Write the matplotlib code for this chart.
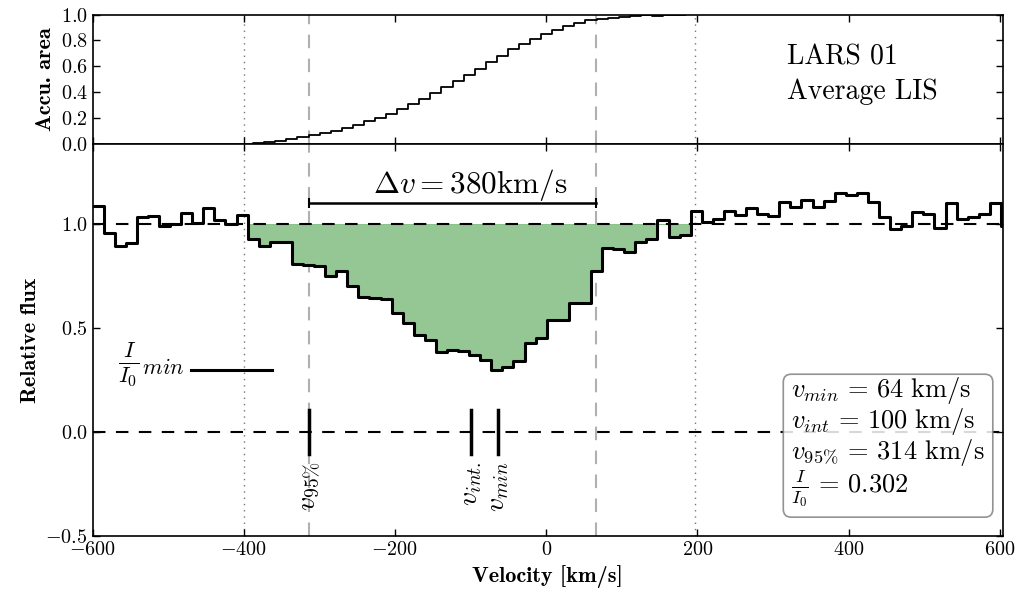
import numpy as np
import matplotlib
matplotlib.use("Agg")
import matplotlib.pyplot as plt
from matplotlib.ticker import FuncFormatter

plt.rcParams['font.family'] = ['cmr10']
plt.rcParams['mathtext.fontset'] = 'cm'
plt.rcParams['axes.formatter.use_mathtext'] = True
plt.rcParams['axes.unicode_minus'] = True

# ---------------- data ----------------
v_start = -600.0      # left edge of first velocity bin (km/s)
bin_width = 14.65     # km/s
flux = [1.087, 0.960, 0.897, 0.911, 1.034, 1.039, 0.992, 1.001, 1.053, 1.005,
        1.079, 1.021, 1.000, 1.047, 0.930, 0.897, 0.914, 0.917, 0.809, 0.804,
        0.800, 0.751, 0.777, 0.703, 0.649, 0.644, 0.640, 0.572, 0.527, 0.468,
        0.444, 0.388, 0.396, 0.392, 0.372, 0.348, 0.302, 0.315, 0.341, 0.431,
        0.452, 0.540, 0.540, 0.620, 0.624, 0.775, 0.885, 0.882, 0.868, 0.917,
        0.931, 1.023, 0.937, 0.949, 1.063, 1.013, 1.025, 1.065, 1.045, 1.077,
        1.049, 1.040, 1.109, 1.082, 1.117, 1.082, 1.114, 1.149, 1.141, 1.149,
        1.109, 1.034, 0.976, 0.992, 1.061, 1.049, 0.981, 1.104, 1.024, 1.037,
        1.049, 1.104, 0.990]
line_first_bin = 14   # first bin of the absorption line window
line_last_bin = 53    # last bin of the absorption line window
v_window = [-400, 197]
v95_left, v95_right = -314, 66
v_int = -100
v_min = -64
I_min = 0.302
delta_v = 380
box_lines = [r'$v_{min}\,=\,64\ \mathrm{km/s}$',
             r'$v_{int}\,=\,100\ \mathrm{km/s}$',
             r'$v_{95\%}\,=\,314\ \mathrm{km/s}$',
             r'$\frac{I}{I_0}\,=\,0.302$']
title_lines = ['LARS 01', 'Average LIS']
x_ticks = [-600, -400, -200, 0, 200, 400, 600]
top_yticks = [0.0, 0.2, 0.4, 0.6, 0.8, 1.0]
bot_yticks = [-0.5, 0.0, 0.5, 1.0]

# ---------------- derived ----------------
flux = np.array(flux)
edges = v_start + bin_width * np.arange(len(flux) + 1)
centers = 0.5 * (edges[:-1] + edges[1:])
sel = slice(line_first_bin, line_last_bin + 1)
deficit = 1.0 - flux[sel]
accu = np.cumsum(deficit) / np.sum(deficit)

fmt1 = FuncFormatter(lambda x, p: r'$%.1f$' % x)
fmt0 = FuncFormatter(lambda x, p: r'$%d$' % round(x))

# ---------------- figure ----------------
fig = plt.figure(figsize=(10.29, 5.97), dpi=100)
L, W = 0.0899, 0.8844
ax1 = fig.add_axes([L, 0.7583, W, 0.2174])
ax2 = fig.add_axes([L, 0.1017, W, 0.6566])

xlim = (-600, 603.5)
dotted_kw = dict(color='#777777', lw=1.0, dashes=(1.0, 3.5))
gdash_kw = dict(color='#b0b0b0', lw=1.5, dashes=(6.5, 5))
label_kw = dict(fontfamily='cmb10', fontsize=16)

for ax in (ax1, ax2):
    for vv in v_window:
        ax.axvline(vv, zorder=1, **dotted_kw)
    for vv in (v95_left, v95_right):
        ax.axvline(vv, zorder=1, **gdash_kw)
    ax.set_xlim(*xlim)
    ax.set_xticks(x_ticks)
    ax.xaxis.set_major_formatter(fmt0)
    ax.yaxis.set_major_formatter(fmt1)
    ax.tick_params(direction='in', top=True, right=True, length=5, width=1,
                   labelsize=14.5)
    for s in ax.spines.values():
        s.set_linewidth(1.2)

# top panel: accumulated area
ax1.step(centers[sel], accu, where='pre', color='k', lw=1.3, zorder=3)
ax1.set_ylim(0, 1)
ax1.set_yticks(top_yticks)
ax1.tick_params(labelbottom=False)
ax1.set_ylabel('Accu. area', **label_kw)
ax1.text(318, 0.611, title_lines[0], fontsize=20, ha='left', va='baseline')
ax1.text(318, 0.349, title_lines[1], fontsize=20, ha='left', va='baseline')

# bottom panel: spectrum
lo = edges[line_first_bin:line_last_bin + 2]
fl = np.minimum(flux[sel], 1.0)
ax2.fill_between(lo, np.append(fl, fl[-1]), 1.0, step='post',
                 facecolor='#94c794', edgecolor='#7fbf7f', lw=0.6, zorder=1)
ax2.axhline(1.0, color='k', lw=1.5, dashes=(6, 5), zorder=2)
ax2.axhline(0.0, color='k', lw=1.5, dashes=(6, 5), zorder=2)
ax2.step(edges, np.append(flux, flux[-1]), where='post', color='k', lw=2.2,
         zorder=4)

ax2.plot([v95_left, v95_right], [1.104, 1.104], color='k', lw=1.8,
         marker='|', ms=7, mew=1.5, zorder=4)
ax2.text(v_int, 1.15, r'$\Delta v = %d\mathrm{km/s}$' % delta_v,
         fontsize=22.5, ha='center', va='baseline')

ax2.plot([-470, -363], [I_min, I_min], color='k', lw=2.2)
ax2.text(-566, 0.325, r'$\frac{I}{I_0}_{min}$', fontsize=23, ha='left',
         va='center')

for vv, lab in ((v95_left, r'$v_{95\%}$'), (v_int, r'$v_{int.}$'),
                (v_min, r'$v_{min}$')):
    ax2.plot([vv, vv], [-0.105, 0.105], color='k', lw=2.5, zorder=4)
    ax2.text(vv, -0.14, lab, rotation=90, fontsize=20, ha='center', va='top')

ax2.text(324, -0.37, '\n'.join(box_lines), fontsize=19, ha='left',
         va='bottom', linespacing=1.0, zorder=5,
         bbox=dict(boxstyle='round,pad=0.3', facecolor='white', alpha=0.85,
                   edgecolor='#808080', lw=1.2))

ax2.set_ylim(-0.5, 1.385)
ax2.set_yticks(bot_yticks)
ax2.set_ylabel('Relative flux', **label_kw)
ax2.set_xlabel('Velocity [km/s]', **label_kw)

fig.savefig('out.png', dpi=100)
